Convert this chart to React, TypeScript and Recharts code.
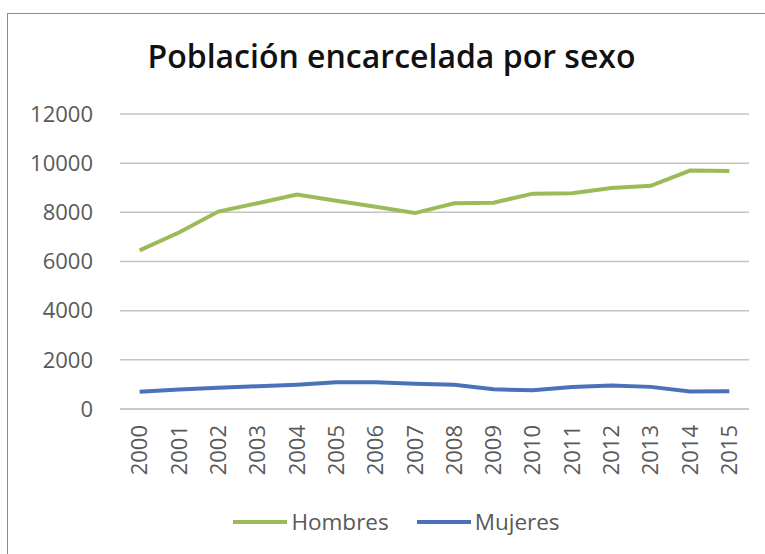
import React from 'react';
import { LineChart, Line, XAxis, YAxis, CartesianGrid, Legend } from 'recharts';

const years = ['2000', '2001', '2002', '2003', '2004', '2005', '2006', '2007', '2008', '2009', '2010', '2011', '2012', '2013', '2014', '2015'];
const hombres = [6450, 7180, 8030, 8370, 8720, 8470, 8230, 7970, 8370, 8390, 8760, 8780, 8990, 9080, 9700, 9680];
const mujeres = [700, 790, 860, 925, 990, 1090, 1090, 1030, 990, 800, 760, 890, 960, 900, 710, 720];
const yTicks = [0, 2000, 4000, 6000, 8000, 10000, 12000];

const GREEN = '#9BBB59';
const BLUE = '#4A72B8';
const FONT = '"Open Sans", sans-serif';
const TEXT = '#595959';

const data = years.map((y, i) => ({ year: y, Hombres: hombres[i], Mujeres: mujeres[i] }));

const XTick = (props: any) => {
  const { x, y, payload } = props;
  return (
    <text
      x={x}
      y={y}
      dy="0.35em"
      textAnchor="end"
      transform={`rotate(-90, ${x}, ${y})`}
      fill={TEXT}
      fontSize={22}
      fontFamily={FONT}
    >
      {payload.value}
    </text>
  );
};

const LegendContent = (props: any) => {
  const items = props.payload || [];
  return (
    <div style={{ display: 'flex', justifyContent: 'center', alignItems: 'center', fontFamily: FONT, fontSize: 22.5, color: TEXT, lineHeight: '28px', paddingLeft: 28 }}>
      {items.map((it: any) => (
        <div key={it.value} style={{ display: 'flex', alignItems: 'center', margin: '0 14px' }}>
          <svg width={54} height={10} style={{ display: 'block' }}>
            <line x1={0} y1={5} x2={54} y2={5} stroke={it.color} strokeWidth={4} />
          </svg>
          <span style={{ marginLeft: 4 }}>{it.value}</span>
        </div>
      ))}
    </div>
  );
};

export default function App() {
  return (
    <div style={{ position: 'absolute', left: 0, top: 0, width: 765, height: 554, background: '#fff', overflow: 'hidden' }}>
      <div style={{ position: 'absolute', left: 7, top: 13, width: 770, height: 560, border: '1px solid #8c8c8c', boxSizing: 'border-box' }} />
      <div style={{ position: 'absolute', left: 0, top: 34, width: 783, textAlign: 'center', fontFamily: FONT, fontSize: 32, fontWeight: 600, color: '#111', lineHeight: 'normal' }}>
        Población encarcelada por sexo
      </div>
      <div style={{ position: 'absolute', left: 0, top: 0 }}>
        <LineChart width={765} height={554} data={data} margin={{ top: 114, right: 16, left: 60, bottom: 52 }}>
          <CartesianGrid vertical={false} stroke="#c4c4c4" strokeWidth={1.5} />
          <XAxis
            dataKey="year"
            scale="band"
            tick={<XTick />}
            tickLine={false}
            axisLine={{ stroke: '#c4c4c4', strokeWidth: 1.5 }}
            tickMargin={10}
            height={65}
            interval={0}
          />
          <YAxis
            width={60}
            domain={[0, 12000]}
            ticks={yTicks}
            tickLine={false}
            axisLine={false}
            tickMargin={21}
            tick={{ fill: TEXT, fontSize: 22, fontFamily: FONT }}
          />
          <Legend
            content={<LegendContent />}
            wrapperStyle={{ position: 'absolute', top: 508, left: 0, width: 765 }}
          />
          <Line type="linear" dataKey="Hombres" stroke={GREEN} strokeWidth={4} dot={false} isAnimationActive={false} />
          <Line type="linear" dataKey="Mujeres" stroke={BLUE} strokeWidth={4} dot={false} isAnimationActive={false} />
        </LineChart>
      </div>
    </div>
  );
}
